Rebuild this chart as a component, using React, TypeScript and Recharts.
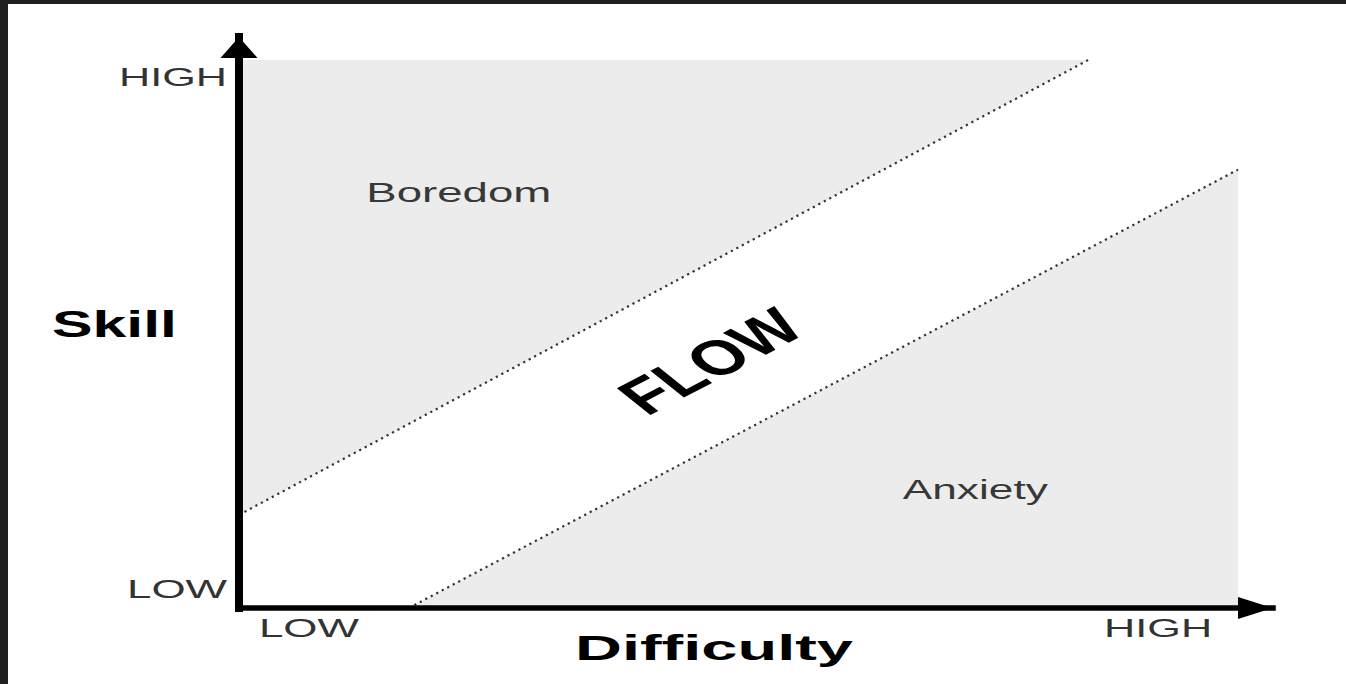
import React from 'react';
import { ComposedChart, Area, Line, XAxis, YAxis, ReferenceDot, Label } from 'recharts';

// zone outlines, in "difficulty / skill" units (0..100)
const boredomZone = [
  { x: 0, range: [17, 100] },
  { x: 85, range: [100, 100] },
];
const anxietyZone = [
  { x: 17, range: [0, 0] },
  { x: 100, range: [0, 80] },
];
const upperEdge = [
  { x: 0, y: 17 },
  { x: 85, y: 100 },
];
const lowerEdge = [
  { x: 17, y: 0 },
  { x: 100, y: 80 },
];

const xTicks = [7, 92];
const xTickLabels = ['LOW', 'HIGH'];
const yTicks = [3.5, 97];
const yTickLabels = ['LOW', 'HIGH'];

const xTitle = 'Difficulty';
const yTitle = 'Skill';
const zoneNames = ['Boredom', 'Anxiety'];
const flowName = 'FLOW';

// axis extents (the arrow tips sit a little past 100)
const X_MAX = 103.5;
const Y_MAX = 104.2;

const FONT = '"Liberation Sans", Arial, Helvetica, sans-serif';
const GRAY = '#ececec';
const tickWidth: Record<string, number> = { LOW: 100, HIGH: 108 };

const XTick = (props: any) => {
  const { x, y, index } = props;
  const label = xTickLabels[index];
  return (
    <text x={x} y={y + 29} textAnchor="middle" fontFamily={FONT} fontSize={26} fill="#333"
      textLength={tickWidth[label]} lengthAdjust="spacingAndGlyphs">
      {label}
    </text>
  );
};

const YTick = (props: any) => {
  const { x, y, index } = props;
  const label = yTickLabels[index];
  return (
    <text x={x - 12} y={y + 9.5} textAnchor="end" fontFamily={FONT} fontSize={26} fill="#333"
      textLength={tickWidth[label]} lengthAdjust="spacingAndGlyphs">
      {label}
    </text>
  );
};

const XTitle = (props: any) => {
  const vb = props.viewBox || { x: 0, y: 0 };
  return (
    <text x={vb.x + 336} y={vb.y + 52} fontFamily={FONT} fontSize={35} fontWeight="bold" fill="#000"
      textLength={278} lengthAdjust="spacingAndGlyphs">
      {xTitle}
    </text>
  );
};

const YTitle = (props: any) => {
  const vb = props.viewBox || { x: 0, y: 0, width: 0 };
  return (
    <text x={vb.x + vb.width - 187} y={vb.y + 300} fontFamily={FONT} fontSize={37} fontWeight="bold" fill="#000"
      textLength={125} lengthAdjust="spacingAndGlyphs">
      {yTitle}
    </text>
  );
};

const zoneText = (text: string, len: number) => (props: any) => (
  <text x={props.cx} y={props.cy + 10} textAnchor="middle" fontFamily={FONT} fontSize={27} fill="#383838"
    textLength={len} lengthAdjust="spacingAndGlyphs">
    {text}
  </text>
);

const flowText = (props: any) => (
  <text
    transform={`translate(${props.cx},${props.cy}) scale(1.55,1) rotate(-39)`}
    textAnchor="middle"
    dominantBaseline="central"
    fontFamily={FONT}
    fontSize={50}
    fontWeight="bold"
    fill="#000"
    textLength={134}
    lengthAdjust="spacingAndGlyphs"
  >
    {flowName}
  </text>
);

const arrowUp = (props: any) => {
  const { cx, cy } = props;
  return <polygon points={`${cx},${cy} ${cx - 18.5},${cy + 21} ${cx + 18.5},${cy + 21}`} fill="#000" />;
};

const arrowRight = (props: any) => {
  const { cx, cy } = props;
  return <polygon points={`${cx},${cy} ${cx - 35},${cy - 11} ${cx - 35},${cy + 11}`} fill="#000" />;
};

export default function App() {
  return (
    <div
      style={{
        width: 1346,
        height: 684,
        boxSizing: 'border-box',
        borderLeft: '8px solid #1f1f1f',
        borderTop: '4px solid #1f1f1f',
        background: '#fff',
      }}
    >
      <style>{`body{margin:0}`}</style>
      <ComposedChart width={1338} height={680} margin={{ top: 33, right: 73, left: 171, bottom: 46 }}>
        <Area data={boredomZone} dataKey="range" type="linear" fill={GRAY} fillOpacity={1} stroke="none"
          isAnimationActive={false} />
        <Area data={anxietyZone} dataKey="range" type="linear" fill={GRAY} fillOpacity={1} stroke="none"
          isAnimationActive={false} />
        <Line data={upperEdge} dataKey="y" type="linear" stroke="#333" strokeWidth={2.2} strokeDasharray="2.2 4"
          dot={false} activeDot={false} isAnimationActive={false} />
        <Line data={lowerEdge} dataKey="y" type="linear" stroke="#333" strokeWidth={2.2} strokeDasharray="2.2 4"
          dot={false} activeDot={false} isAnimationActive={false} />

        <ReferenceDot x={22} y={76} r={0} shape={zoneText(zoneNames[0], 185)} />
        <ReferenceDot x={73.7} y={21.7} r={0} shape={zoneText(zoneNames[1], 145)} />
        <ReferenceDot x={47.2} y={45} r={0} shape={flowText} />

        <XAxis
          type="number"
          dataKey="x"
          domain={[0, X_MAX]}
          allowDataOverflow
          ticks={xTicks}
          tick={<XTick />}
          tickLine={false}
          tickSize={0}
          tickMargin={0}
          height={30}
          axisLine={{ stroke: '#000', strokeWidth: 5.5, strokeLinecap: 'square' }}
        >
          <Label content={<XTitle />} />
        </XAxis>
        <YAxis
          type="number"
          domain={[0, Y_MAX]}
          allowDataOverflow
          ticks={yTicks}
          tick={<YTick />}
          tickLine={false}
          tickSize={0}
          tickMargin={0}
          width={60}
          axisLine={{ stroke: '#000', strokeWidth: 8, strokeLinecap: 'square' }}
        >
          <Label content={<YTitle />} />
        </YAxis>

        <ReferenceDot x={0} y={Y_MAX} r={0} shape={arrowUp} />
        <ReferenceDot x={X_MAX} y={0} r={0} shape={arrowRight} />
      </ComposedChart>
    </div>
  );
}
